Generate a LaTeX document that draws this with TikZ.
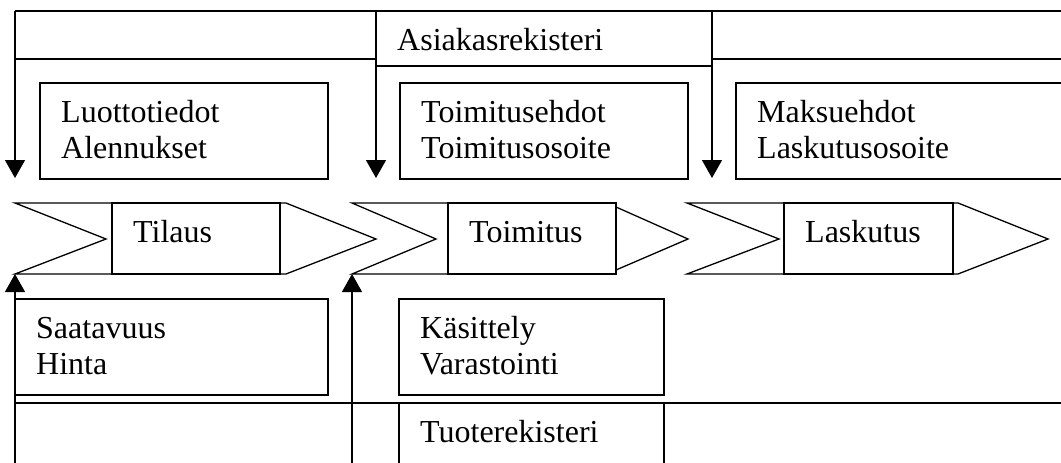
\documentclass[tikz,border=0pt]{standalone}
\usepackage{fontspec}
\setmainfont{Liberation Serif}
\usetikzlibrary{arrows.meta}

\tikzset{
  ln/.style={line width=1.3pt},
  box/.style={rectangle, draw, ln, inner sep=0pt, outer sep=0pt, anchor=north west},
  lbl/.style={anchor=base west, inner sep=0pt, xshift=21pt, yshift=-39.5pt,
    font=\fontsize{32}{36}\selectfont, text width=260pt, align=left},
  arr/.style={-{Triangle[length=18pt,width=20pt]}, ln},
}

\begin{document}
\begin{tikzpicture}[x=1pt, y=-1pt, line join=miter]
\useasboundingbox (0,0) rectangle (1061,463);

% customer register band
\node[box, minimum width=336pt, minimum height=55pt] (asiakas) at (376,11) {};
\node[lbl] (asiakasT) at (asiakas.north west) {Asiakasrekisteri};
\coordinate (bandTL) at (15,11);
\coordinate (bandTR) at (1070,11);
\draw[ln] (bandTL) -- (bandTR);
\draw[ln] (15,59) -- (376,59);
\draw[ln] (712,59) -- (1070,59);

\coordinate (d1) at (15,178);
\coordinate (d2) at (376,178);
\coordinate (d3) at (712,178);
\draw[arr] (bandTL) -- (d1);
\draw[arr] (asiakas.north west) -- (d2);
\draw[arr] (asiakas.north east) -- (d3);

% customer data
\node[box, minimum width=288pt, minimum height=96pt] (luotto) at (40,83) {};
\node[lbl] (luottoT) at (luotto.north west) {Luottotiedot\\Alennukset};
\node[box, minimum width=288pt, minimum height=96pt] (toimehd) at (400,83) {};
\node[lbl] (toimehdT) at (toimehd.north west) {Toimitusehdot\\Toimitusosoite};
\node[box, minimum width=340pt, minimum height=96pt] (maksu) at (736,83) {};
\node[lbl] (maksuT) at (maksu.north west) {Maksuehdot\\Laskutusosoite};

% process chain
\draw[ln] (15,203) -- (106,239) -- (15,274) -- (286,274) -- (376,239) -- (286,203) -- cycle;
\node[box, minimum width=168pt, minimum height=71pt] (tilaus) at (112,203) {};
\node[lbl] (tilausT) at (tilaus.north west) {Tilaus};

\draw[ln] (352,203) -- (436,239) -- (352,274) -- (616,274) -- (616,270) -- (688,239)
  -- (616,207) -- (616,203) -- cycle;
\node[box, minimum width=168pt, minimum height=71pt] (toimitus) at (448,203) {};
\node[lbl] (toimitusT) at (toimitus.north west) {Toimitus};

\draw[ln] (687,203) -- (779,239) -- (687,274) -- (958,274) -- (1048,239) -- (958,203) -- cycle;
\node[box, minimum width=169pt, minimum height=71pt] (laskutus) at (784,203) {};
\node[lbl] (laskutusT) at (laskutus.north west) {Laskutus};

% product data
\coordinate (ch1sw) at (15,274);
\coordinate (ch2sw) at (352,274);
\coordinate (u1) at (15,470);
\coordinate (u2) at (352,470);
\draw[arr] (u1) -- (ch1sw);
\draw[arr] (u2) -- (ch2sw);

\node[box, minimum width=313pt, minimum height=96pt] (saata) at (15,299) {};
\node[lbl] (saataT) at (saata.north west) {Saatavuus\\Hinta};
\node[box, minimum width=265pt, minimum height=96pt] (kasit) at (399,299) {};
\node[lbl] (kasitT) at (kasit.north west) {Käsittely\\Varastointi};

% product register band
\draw[ln] (15,403) -- (1070,403);
\node[box, minimum width=265pt, minimum height=80pt] (tuote) at (399,403) {};
\node[lbl] (tuoteT) at (tuote.north west) {Tuoterekisteri};

\end{tikzpicture}
\end{document}
